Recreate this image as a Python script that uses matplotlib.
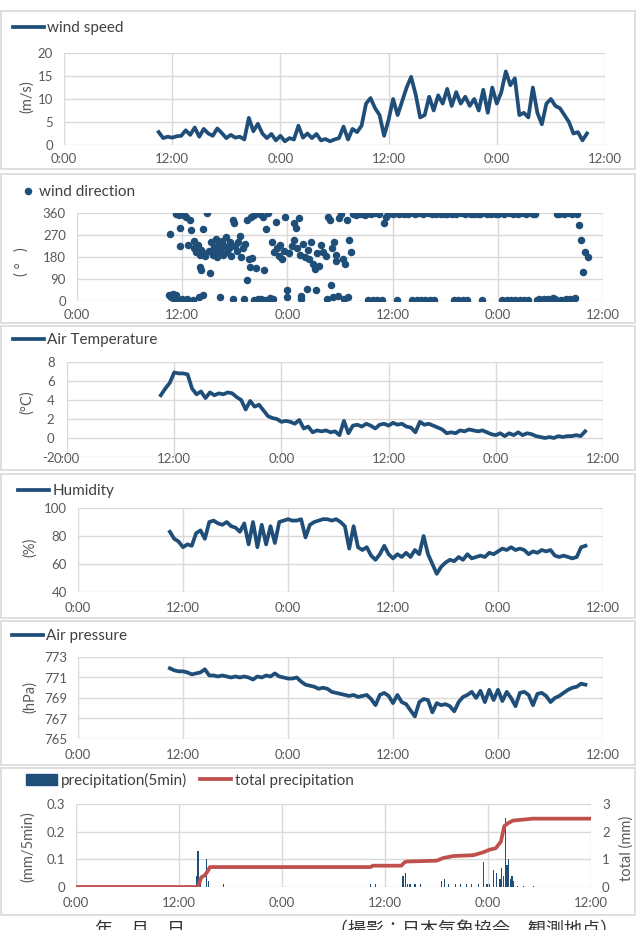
import numpy as np
import matplotlib
matplotlib.use("Agg")
import matplotlib.pyplot as plt
from matplotlib.patches import Rectangle, Patch

plt.rcParams['font.family'] = ['Lato', 'Noto Sans CJK JP', 'DejaVu Sans']

W, H = 639, 930
BLUE = '#1f4e79'
RED = '#c0504d'
GRID = '#d9d9d9'
TXT = '#595959'
LEG = '#404040'

# x axis: hours since first midnight
xticks = [0, 12, 24, 36, 48, 60]
xticklabels = ['0:00', '12:00', '0:00', '12:00', '0:00', '12:00']

# half-hourly samples, 10:30 day 1 -> 10:00 day 3
hours = np.arange(10.5, 58.01, 0.5)

wind_speed = [
    2.8, 1.5, 1.8, 1.6, 1.9, 2.0, 3.2, 2.2, 3.8, 1.8, 3.5, 2.5, 2.0, 3.6, 2.6, 1.5,
    2.2, 1.6, 1.8, 1.2, 5.9, 3.0, 4.6, 2.5, 1.5, 2.4, 1.0, 2.0, 0.8, 1.5, 1.2, 4.2,
    1.6, 2.5, 1.5, 2.4, 1.0, 1.3, 0.8, 1.2, 1.5, 4.0, 1.2, 3.5, 2.8, 4.2, 9.0, 10.2,
    8.0, 6.5, 2.0, 5.5, 10.0, 6.5, 9.5, 12.5, 14.8, 11.0, 6.0, 6.5, 10.5, 7.5, 10.8, 9.0,
    12.2, 8.5, 11.5, 9.0, 10.5, 8.5, 10.0, 7.5, 12.0, 7.0, 12.5, 9.0, 11.5, 16.0, 13.0, 14.5,
    6.5, 7.0, 6.0, 12.5, 7.0, 4.5, 9.0, 10.0, 8.5, 8.0, 6.5, 5.0, 2.5, 2.8, 1.0, 2.5,
]

air_temp = [
    4.5, 5.2, 5.8, 6.9, 6.8, 6.8, 6.7, 5.2, 4.6, 4.9, 4.2, 4.8, 4.5, 4.7, 4.6, 4.8,
    4.7, 4.3, 4.0, 3.0, 3.9, 3.3, 3.5, 2.9, 2.3, 2.1, 2.0, 1.7, 1.8, 1.7, 1.5, 1.9,
    1.0, 1.2, 0.6, 0.8, 0.7, 0.8, 0.6, 0.7, 0.3, 1.8, 0.5, 1.3, 1.4, 1.2, 1.5, 1.3,
    1.0, 1.4, 1.5, 1.3, 1.6, 1.4, 1.5, 1.2, 1.1, 0.6, 1.7, 1.4, 1.5, 1.3, 1.1, 0.9,
    0.5, 0.6, 0.5, 0.8, 0.7, 0.9, 0.8, 0.7, 0.8, 0.6, 0.4, 0.3, 0.5, 0.2, 0.5, 0.3,
    0.6, 0.3, 0.5, 0.4, 0.2, 0.1, 0.0, 0.1, 0.0, 0.2, 0.1, 0.2, 0.2, 0.3, 0.2, 0.7,
]

humidity = [
    83, 78, 76, 72, 74, 73, 82, 84, 78, 90, 91, 89, 88, 90, 87, 86,
    83, 89, 74, 90, 72, 88, 74, 87, 75, 90, 91, 92, 91, 91, 92, 79,
    88, 90, 91, 92, 92, 91, 92, 90, 87, 71, 87, 72, 70, 72, 66, 63,
    67, 73, 67, 64, 67, 65, 68, 65, 70, 67, 80, 67, 60, 53, 58, 61,
    63, 62, 65, 63, 67, 64, 65, 66, 65, 68, 67, 69, 71, 70, 72, 70,
    71, 70, 67, 69, 68, 70, 69, 70, 66, 65, 66, 65, 64, 65, 72, 73,
]

air_pressure = [
    771.9, 771.7, 771.6, 771.6, 771.5, 771.3, 771.4, 771.5, 771.8, 771.2, 771.2, 771.1,
    771.2, 771.1, 771.0, 771.1, 771.0, 771.1, 771.0, 770.8, 771.1, 771.0, 771.2, 771.1,
    771.4, 771.1, 771.0, 770.9, 770.9, 771.0, 770.6, 770.3, 770.2, 770.1, 769.9, 770.0,
    769.9, 769.6, 769.5, 769.4, 769.3, 769.2, 769.3, 769.1, 769.2, 769.3, 768.9, 768.3,
    769.3, 769.5, 769.2, 768.5, 769.3, 768.6, 768.4, 767.8, 767.2, 768.6, 768.9, 768.8,
    767.6, 768.5, 768.3, 768.4, 768.2, 767.7, 768.6, 769.1, 769.3, 769.6, 769.0, 769.7,
    768.6, 769.8, 768.8, 769.8, 768.7, 769.6, 769.0, 768.2, 769.5, 769.6, 769.3, 768.3,
    769.4, 769.5, 769.2, 768.6, 769.0, 769.2, 769.5, 769.8, 770.0, 770.1, 770.4, 770.3,
]

# wind direction, scattered period (explicit readings)
dir_hours_a = [
    10.5, 10.6, 10.7, 10.9, 11.0, 11.1, 11.3, 11.3, 11.5, 11.6, 11.8, 11.8, 11.9, 12.0,
    12.2, 12.3, 12.4, 12.6, 12.7, 12.9, 13.0, 13.2, 13.3, 13.4, 13.6, 13.8, 13.9, 14.0,
    14.0, 14.1, 14.2, 14.4, 14.4, 14.4, 14.6, 14.8, 15.0, 15.2, 15.3, 15.5, 15.6, 15.8,
    15.9, 16.0, 16.1, 16.3, 16.3, 16.5, 16.6, 16.8, 17.0, 17.1, 17.3, 17.5, 17.6, 17.8,
    17.8, 17.9, 18.0, 18.2, 18.4, 18.6, 18.7, 18.9, 19.0, 19.2, 19.4, 19.4, 19.6, 19.7,
    19.9, 20.0, 20.2, 20.2, 20.4, 20.6, 20.9, 21.0, 21.2, 21.3, 21.5, 21.6, 21.8, 22.0,
    22.2, 22.4, 22.5, 22.7, 22.8, 23.0, 23.2, 23.4, 23.6, 23.7, 23.9, 23.9, 24.2, 24.5,
    24.7, 24.8, 25.0, 25.1, 25.3, 25.4, 25.6, 25.6, 25.8, 26.0, 26.2, 26.3, 26.5, 26.7,
    26.9, 27.1, 27.3, 27.4, 27.6, 27.8, 28.1, 28.4, 28.5, 28.6, 28.9, 29.0, 29.1, 29.2,
    29.3, 29.5, 29.6, 29.8, 29.9, 30.1, 30.3, 30.4, 30.6, 30.8, 30.9, 31.0, 31.2, 31.5,
    31.8, 32.0, 32.3, 32.6, 32.8,
]
dir_deg_a = [
    25, 275, 15, 20, 30, 10, 25, 355, 5, 350, 225, 300, 355, 10,
    352, 0, 345, 8, 230, 330, 290, 5, 245, 215, 200, 230, 15, 190,
    140, 128, 210, 195, 25, 295, 185, 360, 205, 115, 240, 190, 220, 255,
    200, 180, 230, 15, 210, 245, 190, 225, 260, 200, 215, 240, 185, 330,
    8, 320, 225, 205, 240, 265, 180, 215, 10, 235, 85, 330, 170, 140,
    345, 175, 5, 350, 135, 8, 355, 10, 345, 128, 5, 295, 360, 12,
    240, 8, 200, 322, 215, 185, 230, 170, 205, 343, 45, 15, 195, 225,
    320, 250, 300, 215, 340, 190, 20, 8, 235, 180, 50, 210, 170, 240,
    150, 130, 45, 195, 145, 230, 200, 185, 10, 345, 330, 65, 215, 15,
    240, 190, 165, 20, 340, 355, 170, 10, 150, 330, 15, 250, 200, 355,
    350, 358, 355, 357, 352,
]

# wind direction, steady northerly period (quarter-hourly)
dir_hours_b = np.arange(33.0, 58.26, 0.25)
dir_deg_b = [
    357, 5, 355, 4, 358, 6, 356, 3, 320, 345, 357, 358, 355, 358, 5, 357,
    358, 356, 359, 357, 358, 5, 357, 4, 358, 6, 357, 3, 358, 5, 356, 6,
    357, 358, 356, 359, 355, 357, 358, 356, 5, 357, 4, 358, 6, 357, 5, 358,
    357, 355, 358, 356, 357, 5, 358, 356, 359, 356, 358, 357, 355, 358, 4, 357,
    6, 358, 3, 356, 5, 357, 4, 358, 5, 357, 6, 358, 355, 357, 5, 8,
    6, 10, 4, 8, 5, 12, 7, 355, 357, 6, 356, 10, 358, 8, 355, 12,
    355, 310, 250, 120, 200, 180,
]

# precipitation per 5 min (mm)
precip_hours = [14.1, 14.2, 14.3, 14.5, 15.2, 15.4, 17.2, 34.3, 34.9, 38.1, 38.4, 38.6,
                38.9, 39.5, 40.1, 42.6, 42.9, 43.4, 44.2, 44.8, 45.5, 46.1, 46.9, 47.5,
                47.9, 48.2, 48.6, 49.0, 49.4, 49.6, 49.8, 50.0, 50.2, 50.4, 50.6, 50.8,
                51.0, 51.4, 52.1, 53.3]
precip_mm = [0.04, 0.13, 0.04, 0.02, 0.10, 0.02, 0.01, 0.01, 0.01, 0.04, 0.05, 0.01,
             0.01, 0.01, 0.01, 0.02, 0.03, 0.01, 0.01, 0.01, 0.01, 0.01, 0.01, 0.09,
             0.01, 0.01, 0.06, 0.05, 0.03, 0.07, 0.04, 0.25, 0.08, 0.10, 0.03, 0.04,
             0.02, 0.005, 0.005, 0.005]

# cumulative precipitation (mm)
total_hours = [0, 14.2, 14.6, 15.0, 15.4, 15.6, 34.3, 34.6, 37.9, 38.3, 38.5, 42.0,
               42.8, 44.0, 46.3, 47.4, 48.2, 48.9, 49.5, 49.9, 50.3, 50.9, 53.2, 60.0]
total_mm = [0, 0, 0.35, 0.42, 0.60, 0.72, 0.72, 0.77, 0.77, 0.90, 0.92, 0.95,
            1.05, 1.12, 1.15, 1.25, 1.35, 1.40, 1.64, 2.20, 2.30, 2.40, 2.47, 2.47]


fig = plt.figure(figsize=(W / 100, H / 100), dpi=100)

# panel frames
for (x0, y0, x1, y1) in [(1, 11, 635, 169), (1, 174, 635, 323), (1, 326, 635, 470),
                         (1, 474, 635, 618), (1, 621, 635, 765), (1, 768, 635, 915)]:
    fig.add_artist(Rectangle((x0 / W, 1 - y1 / H), (x1 - x0) / W, (y1 - y0) / H,
                             transform=fig.transFigure, fill=False, ec=GRID, lw=1.2))


def px_axes(x0, y0, x1, y1):
    return fig.add_axes([x0 / W, 1 - y1 / H, (x1 - x0) / W, (y1 - y0) / H])


def style(ax, ylim, yticks, pad=6):
    ax.set_xlim(0, 60)
    ax.set_ylim(*ylim)
    ax.set_xticks(xticks)
    ax.set_xticklabels(xticklabels)
    ax.set_yticks(yticks)
    ax.grid(True, color=GRID, lw=1.0)
    ax.set_axisbelow(True)
    for s in ax.spines.values():
        s.set_visible(False)
    ax.patch.set_alpha(0)
    ax.tick_params(length=0, colors=TXT, labelsize=9.5)
    ax.tick_params(axis='x', pad=pad)
    ax.tick_params(axis='y', pad=8)


def ylabel(x, y, text):
    fig.text(x / W, 1 - y / H, text, rotation=90, ha='center', va='center',
             color=TXT, fontsize=10.5)


def legend(ax, handles, labels, x, y, **kw):
    opts = dict(loc='center left', bbox_to_anchor=(x / W, 1 - y / H),
                bbox_transform=fig.transFigure, frameon=False, fontsize=11,
                handlelength=2.0, handletextpad=0.25, borderpad=0, borderaxespad=0,
                labelcolor=LEG)
    opts.update(kw)
    ax.legend(handles, labels, **opts)


LW = 2.7

# wind speed
ax1 = px_axes(64, 53, 605, 145)
style(ax1, (0, 20), [0, 5, 10, 15, 20])
l1, = ax1.plot(hours, wind_speed, color=BLUE, lw=LW)
ylabel(27, 97, '(m/s)')
legend(ax1, [l1], ['wind speed'], 13, 28)

# wind direction
ax2 = px_axes(77, 213, 603, 301)
style(ax2, (0, 360), [0, 90, 180, 270, 360])
ax2.plot(dir_hours_a, dir_deg_a, ls='none', marker='o', ms=4.4, color=BLUE)
d2, = ax2.plot(dir_hours_b, dir_deg_b, ls='none', marker='o', ms=4.4, color=BLUE)
ylabel(22, 262, '( °   )')
legend(ax2, [d2], ['wind direction'], 22, 192, handlelength=0.8, handletextpad=0.3)

# air temperature (x labels sit on the -2 line, as in the original)
ax3 = px_axes(67, 362, 603, 457)
style(ax3, (-2, 8), [-2, 0, 2, 4, 6, 8], pad=-3)
ax3.set_yticklabels(['-2', '0', '2', '4', '6', '8'])
ax3.tick_params(axis='y', pad=9)
l3, = ax3.plot(hours, air_temp, color=BLUE, lw=LW)
ylabel(27, 402, '(°C)')
legend(ax3, [l3], ['Air Temperature'], 13, 340)

# humidity
ax4 = px_axes(78, 508, 603, 592)
style(ax4, (40, 100), [40, 60, 80, 100], pad=7)
l4, = ax4.plot(hours, humidity, color=BLUE, lw=LW)
ylabel(30, 547, '(%)')
legend(ax4, [l4], ['Humidity'], 18, 491)

# air pressure
ax5 = px_axes(78, 657, 603, 739)
style(ax5, (765, 773), [765, 767, 769, 771, 773], pad=7)
l5, = ax5.plot(hours, air_pressure, color=BLUE, lw=LW)
ylabel(30, 697, '(hPa)')
legend(ax5, [l5], ['Air pressure'], 12, 636)

# precipitation
ax6 = px_axes(76, 804, 591, 887)
style(ax6, (0, 0.3), [0, 0.1, 0.2, 0.3], pad=7)
ax6.set_yticklabels(['0', '0.1', '0.2', '0.3'])
ax6.bar(precip_hours, precip_mm, width=0.15, color=BLUE, lw=0)
ax6b = ax6.twinx()
ax6b.set_ylim(0, 3)
ax6b.set_yticks([0, 1, 2, 3])
for s in ax6b.spines.values():
    s.set_visible(False)
ax6b.tick_params(length=0, colors=TXT, labelsize=9.5, pad=8)
l6, = ax6b.plot(total_hours, total_mm, color=RED, lw=LW)
ylabel(28, 847, '(mm/5min)')
ylabel(627, 848, 'total (mm)')
legend(ax6b, [Patch(color=BLUE), l6], ['precipitation(5min)', 'total precipitation'],
       26, 780, ncol=2, columnspacing=0.9)

# caption at the bottom (cut off in the original)
fig.text(95 / W, 0.0, '年　月　日', ha='left', va='center', fontsize=13, color='#333333')
fig.text(330 / W, 0.0, '（撮影：日本気象協会　観測地点）', ha='left', va='center',
         fontsize=13, color='#333333')

fig.savefig('out.png', dpi=100)
